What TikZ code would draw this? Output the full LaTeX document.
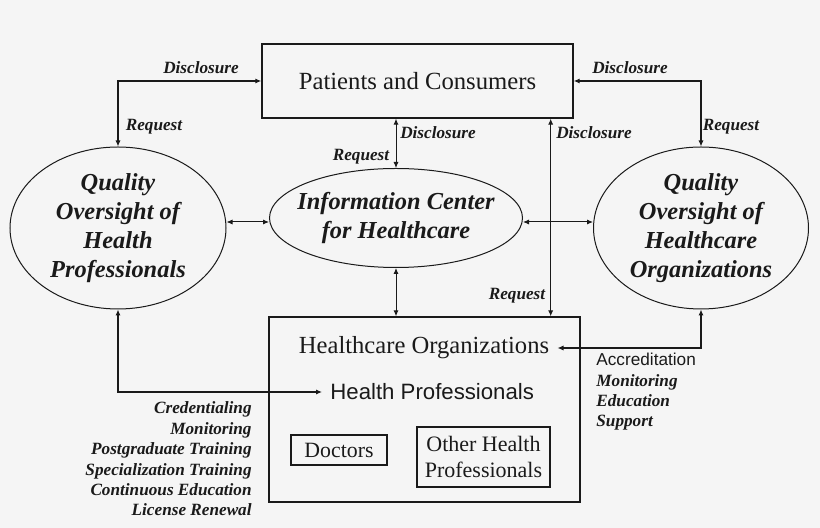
\documentclass[tikz,border=0pt]{standalone}
\usepackage{fontspec}
\setmainfont{Liberation Serif}
\setsansfont{Liberation Sans}
\usetikzlibrary{shapes.geometric,arrows.meta}
\definecolor{paper}{HTML}{F5F5F5}
\definecolor{ink}{HTML}{1A1A1A}
\tikzset{box/.style={draw=ink, line width=0.7pt, inner sep=0pt, text=ink},
    oval/.style={draw=ink, ellipse, line width=0.5pt, inner sep=0pt,
        label={[ovaltext]center:#1}},
    ovaltext/.style={align=center, text=ink, inner sep=0pt,
        font=\fontsize{12.2}{14.5}\selectfont\bfseries\itshape},
    tag/.style={inner sep=0pt, text=ink, font=\fontsize{8.6}{10.2}\selectfont\bfseries\itshape},
    link/.style={draw=ink, line width=0.5pt,
        {Latex[length=3pt,width=2.6pt]}-{Latex[length=3pt,width=2.6pt]}},
    heavylink/.style={link, line width=1pt},
    }
\begin{document}
\begin{tikzpicture}[x=0.5pt,y=-0.5pt]
\fill[paper] (0,0) rectangle (820,528);
% boxes and ovals
\node[box, minimum width=155.5pt, minimum height=37pt, font=\fontsize{12.35}{14}\selectfont] (pat) at (417.5,81) {Patients and Consumers};
\node[oval={Quality\\Oversight of\\Health\\Professionals}, minimum width=108pt, minimum height=81pt] (qhp) at (118,228) {};
\node[oval={Information Center\\for Healthcare}, minimum width=126.5pt, minimum height=49.5pt] (ich) at (396,218) {};
\node[oval={Quality\\Oversight of\\Healthcare\\Organizations}, minimum width=107.5pt, minimum height=81pt] (qho) at (701,228) {};
\node[box, minimum width=155.5pt, minimum height=92.5pt] (hco) at (424.5,409.5) {};
\node[inner sep=4pt, text=ink, font=\fontsize{12.3}{14}\selectfont] (hcorg) at (424,348) {Healthcare Organizations};
\node[inner sep=4pt, text=ink, anchor=west, font=\sffamily\fontsize{11.1}{13}\selectfont] (hp) at (322,392) {Health Professionals};
\node[box, minimum width=48pt, minimum height=15pt, font=\fontsize{10.9}{12}\selectfont] (doc) at (339,450) {Doctors};
\node[box, minimum width=66.5pt, minimum height=30pt, align=center, font=\fontsize{11}{13}\selectfont] (ohp) at (483.5,457) {Other Health\\Professionals};
% connectors
\path ([xshift=-15pt]hco.north east) coordinate (vbot)
    ([yshift=-2pt]ich.west) coordinate (iw)
    ([yshift=-2pt]ich.east) coordinate (ie);
\draw[heavylink] (pat.west) -| (qhp.north);
\draw[heavylink] (pat.east) -| (qho.north);
\draw[link] (pat.south -| ich.north) -- (ich.north);
\draw[link] (vbot |- pat.south) -- (vbot);
\draw[link] (iw) -- (iw -| qhp.east);
\draw[link] (ie) -- (ie -| qho.west);
\draw[link] (ich.south) -- (ich.south |- hco.north);
\draw[heavylink] (qhp.south) |- (hp.west);
\draw[heavylink] (qho.south) |- (hcorg.east);
% labels
\node[tag] (dl) at (201,68) {Disclosure};
\node[tag] (rl) at (154,127) {Request};
\node[tag] (rc) at (361,157) {Request};
\node[tag] (dc) at (438,133) {Disclosure};
\node[tag] (dv) at (594,133) {Disclosure};
\node[tag] (dr) at (630,68) {Disclosure};
\node[tag] (rr) at (731,127) {Request};
\node[tag] (rv) at (517,296) {Request};
\node[tag, align=right, anchor=east] (hptasks) at (252,459) {Credentialing\\Monitoring\\Postgraduate Training\\Specialization Training\\Continuous Education\\License Renewal};
\node[tag, align=left, anchor=west] (hcotasks) at (596,392) {{\sffamily\mdseries\upshape Accreditation}\\Monitoring\\Education\\Support};
\end{tikzpicture}
\end{document}
